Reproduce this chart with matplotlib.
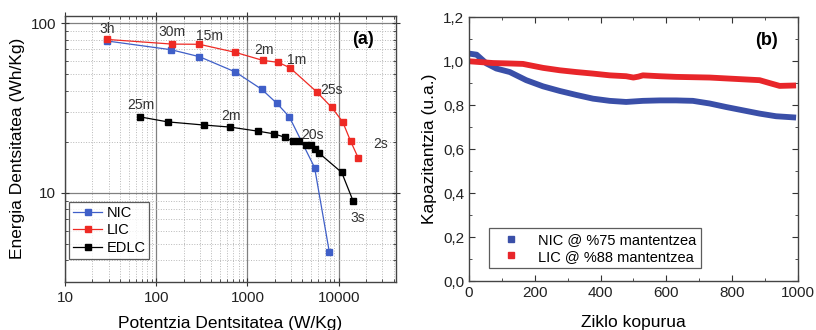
import matplotlib

matplotlib.use("Agg")
import matplotlib.pyplot as plt
from matplotlib.ticker import FuncFormatter, LogLocator, MultipleLocator, NullFormatter

plt.rcParams["font.family"] = ["Liberation Sans", "DejaVu Sans"]

# (a) Ragone plot
nic_power = [29, 145, 297, 738, 1436, 2098, 2870, 5445, 7890]
nic_energy = [78.4, 69.7, 63.4, 51.5, 40.7, 33.7, 28.1, 14.1, 4.5]
lic_power = [29, 149, 297, 738, 1472, 2173, 2917, 5730, 8375, 11070, 13550, 16450]
lic_energy = [80.1, 75.2, 75.0, 67.2, 60.3, 58.7, 54.6, 39.4, 31.9, 26.2, 20.1, 16.0]
edlc_power = [67, 133, 331, 650, 1297, 1930, 2550, 3150, 3665, 4340, 4920, 5490, 6135, 10790, 14350]
edlc_energy = [28.0, 26.2, 25.1, 24.4, 23.1, 22.3, 21.3, 20.1, 20.1, 19.2, 19.2, 18.2, 17.1, 13.2, 9.0]
time_labels = ["3h", "30m", "15m", "2m", "1m", "25s", "2s", "25m", "2m", "20s", "3s"]
time_label_pos = [(29, 92), (150, 88.5), (382, 84), (1500, 69.4), (3450, 60.6), (8370, 40.3),
                  (28970, 19.4), (67, 32.9), (667, 28.4), (5170, 21.9), (16180, 7.1)]

# (b) cycling
cycles = [0, 23, 53, 83, 124, 174, 225, 276, 326, 377, 428, 478, 529, 580, 630, 681, 732, 782,
          833, 884, 934, 995]
nic_cap = [1.035, 1.03, 0.99, 0.967, 0.951, 0.914, 0.886, 0.865, 0.847, 0.83, 0.82, 0.815, 0.82,
           0.822, 0.822, 0.82, 0.808, 0.792, 0.777, 0.762, 0.75, 0.744]
lic_cycles = [0, 73, 124, 164, 225, 276, 326, 377, 428, 478, 500, 515, 529, 580, 630, 732, 782,
              833, 884, 914, 945, 995]
lic_cap = [1.0, 0.992, 0.99, 0.988, 0.97, 0.959, 0.951, 0.944, 0.936, 0.932, 0.926, 0.93, 0.936,
           0.932, 0.929, 0.926, 0.922, 0.918, 0.914, 0.901, 0.888, 0.89]

BLUE_A = "#3f5fc8"
RED_A = "#ee2a24"
BLUE_B = "#3a4fa8"
RED_B = "#e8262a"
FS = 11
LABEL_FS = 12.5

fig = plt.figure(figsize=(8.16, 3.30), dpi=100)
ax_a = fig.add_axes([0.0797, 0.1464, 0.405, 0.805])
ax_b = fig.add_axes([0.5748, 0.148, 0.4028, 0.7996])

marker_kw = dict(marker="s", markersize=4.8, linewidth=0.9)
ax_a.plot(nic_power, nic_energy, color=BLUE_A, label="NIC", zorder=3, **marker_kw)
ax_a.plot(lic_power, lic_energy, color=RED_A, label="LIC", zorder=3, **marker_kw)
ax_a.plot(edlc_power, edlc_energy, color="black", label="EDLC", zorder=3, **marker_kw)
ax_a.set_xscale("log")
ax_a.set_yscale("log")
ax_a.set_xlim(10, 42000)
ax_a.set_ylim(3.0, 110)
ax_a.xaxis.set_major_locator(LogLocator(base=10))
ax_a.yaxis.set_major_locator(LogLocator(base=10))
ax_a.xaxis.set_major_formatter(FuncFormatter(lambda v, p: f"{v:.0f}"))
ax_a.yaxis.set_major_formatter(FuncFormatter(lambda v, p: f"{v:.0f}"))
ax_a.xaxis.set_minor_formatter(NullFormatter())
ax_a.yaxis.set_minor_formatter(NullFormatter())
ax_a.grid(True, which="major", color="#808080", linewidth=0.9)
ax_a.grid(True, which="minor", color="#b8b8b8", linestyle=":", linewidth=0.7)
ax_a.set_axisbelow(True)
for txt, (x, y) in zip(time_labels, time_label_pos):
    ax_a.text(x, y, txt, fontsize=10, color="#333333", ha="center", va="center")
ax_a.text(0.903, 0.91, "(a)", transform=ax_a.transAxes, fontsize=13, fontweight="bold",
          ha="center", va="center")
ax_a.set_xlabel("Potentzia Dentsitatea (W/Kg)", fontsize=LABEL_FS, labelpad=8)
ax_a.set_ylabel("Energia Dentsitatea (Wh/Kg)", fontsize=LABEL_FS, labelpad=4)
leg = ax_a.legend(loc="lower left", bbox_to_anchor=(0.0, 0.07), fontsize=10.5, frameon=True,
                  fancybox=False, edgecolor="#333333", handlelength=2.0, handletextpad=0.3,
                  borderpad=0.25, labelspacing=0.25, borderaxespad=0.3)
leg.get_frame().set_linewidth(0.9)

ax_b.plot(cycles, nic_cap, color=BLUE_B, linewidth=4.2, solid_capstyle="butt",
          label="NIC @ %75 mantentzea")
ax_b.plot(lic_cycles, lic_cap, color=RED_B, linewidth=4.2, solid_capstyle="butt",
          label="LIC @ %88 mantentzea")
ax_b.set_xlim(0, 1000)
ax_b.set_ylim(0, 1.2)
ax_b.xaxis.set_major_locator(MultipleLocator(200))
ax_b.xaxis.set_minor_locator(MultipleLocator(100))
ax_b.yaxis.set_major_locator(MultipleLocator(0.2))
ax_b.yaxis.set_minor_locator(MultipleLocator(0.1))
ax_b.yaxis.set_major_formatter(FuncFormatter(lambda v, p: f"{v:.1f}".replace(".", ",")))
ax_b.text(0.906, 0.913, "(b)", transform=ax_b.transAxes, fontsize=13, fontweight="bold",
          ha="center", va="center")
ax_b.set_xlabel("Ziklo kopurua", fontsize=LABEL_FS, labelpad=11)
ax_b.set_ylabel("Kapazitantzia (u.a.)", fontsize=LABEL_FS, labelpad=4)
handles = [plt.Line2D([], [], color=BLUE_B, marker="s", linestyle="none", markersize=4.5),
           plt.Line2D([], [], color=RED_B, marker="s", linestyle="none", markersize=4.5)]
leg_b = ax_b.legend(handles, ["NIC @ %75 mantentzea", "LIC @ %88 mantentzea"],
                    loc="lower left", bbox_to_anchor=(0.06, 0.05), fontsize=10.5,
                    frameon=True, fancybox=False, edgecolor="#333333", handlelength=2.5,
                    handletextpad=0.6, borderpad=0.3, labelspacing=0.2, borderaxespad=0.0)
leg_b.get_frame().set_linewidth(0.9)

for ax in (ax_a, ax_b):
    ax.tick_params(which="both", direction="in", top=True, right=True, labelsize=FS,
                   colors="#333333", labelcolor="#222222")
    ax.tick_params(which="major", length=4)
    ax.tick_params(which="minor", length=2.2)
    for spine in ax.spines.values():
        spine.set_color("#444444")
        spine.set_linewidth(1.0)
ax_a.tick_params(which="major", direction="inout", length=6)

fig.savefig("out.png", dpi=100)
